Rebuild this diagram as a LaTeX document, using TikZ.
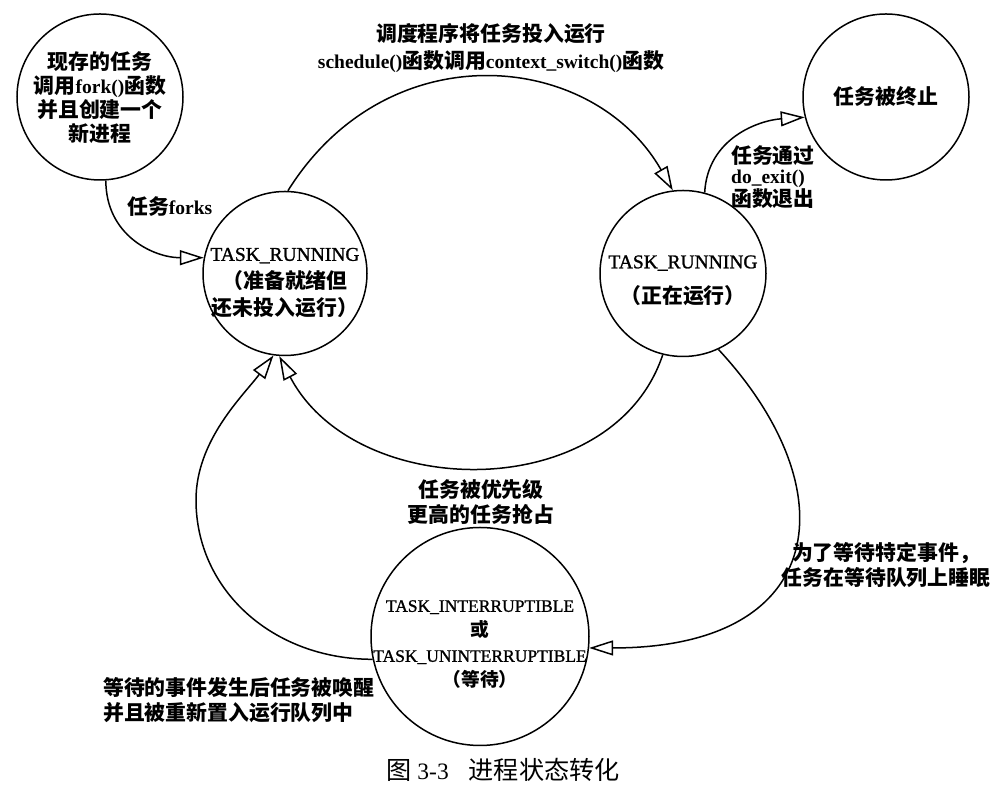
\documentclass[tikz,border=0pt]{standalone}
\usepackage{fontspec}
\setmainfont{Liberation Serif}
\newfontfamily\cjk{Noto Sans CJK SC}[Scale=1.07]
\newfontfamily\tsk{Liberation Serif}[FakeBold=1.2]
\usetikzlibrary{arrows.meta}
\newcommand\zh[1]{{\cjk #1}}
\newcommand\fs[2]{\fontsize{#1}{#2}\selectfont}
\begin{document}
\begin{tikzpicture}[x=1pt,y=1pt,
  ring/.style={circle,draw,line width=1.5pt,inner sep=0pt,minimum size=#1},
  txt/.style={align=center,inner sep=0pt,font=\fs{19.5}{#1}},
  btxt/.style={align=center,inner sep=0pt,font=\fs{19.5}{#1}\bfseries},
  arr/.style={line width=1.5pt,-{Triangle[open,length=24pt,width=15pt,line width=1.5pt]}}]
\useasboundingbox (0,0) rectangle (1005,802);
\fill[white] (0,0) rectangle (1005,802);

% states
\node[ring=166pt] (c1) at (100,705) {};
\node[ring=164pt] (c2) at (285,528.5) {};
\node[ring=166pt] (c3) at (683,528.5) {};
\node[ring=166pt] (c4) at (886,705) {};
\node[ring=218pt] (c5) at (480,165.5) {};

\node[btxt=24pt] (t1) at (100,704) {\zh{现存的任务}\\\zh{调用}fork()\zh{函数}\\\zh{并且创建一个}\\\zh{新进程}};
\node[txt=27.5pt] (t2) at (285,519) {{\tsk TASK\_RUNNING}\\{\bfseries\zh{（准备就绪但}}\\{\bfseries\zh{还未投入运行）}}};
\node[txt=35pt] (t3) at (683,521.5) {{\tsk TASK\_RUNNING}\\{\bfseries\zh{（正在运行）}}};
\node[btxt=24pt] (t4) at (886,705) {\zh{任务被终止}};
\node[align=center,inner sep=0pt,font=\fs{17.5}{25}] (t5) at (480,157.5)
  {{\tsk TASK\_INTERRUPTIBLE}\\{\bfseries\zh{或}}\\{\tsk TASK\_UNINTERRUPTIBLE}\\{\bfseries\zh{（等待）}}};

% labels
\node[btxt=27pt] (l1) at (491,753.5) {\zh{调度程序将任务投入运行}\\schedule()\zh{函数调用}context\_switch()\zh{函数}};
\node[btxt=24pt,anchor=west] (l2) at (127,595) {\zh{任务}forks};
\node[btxt=20pt,anchor=west,align=left] (l3) at (731,625) {\zh{任务通过}\\do\_exit()\\\zh{函数退出}};
\node[btxt=25pt] (l4) at (481,300) {\zh{任务被优先级}\\\zh{更高的任务抢占}};
\node[btxt=25pt] (l5) at (886,237) {\zh{为了等待特定事件，}\\\zh{任务在等待队列上睡眠}};
\node[btxt=25pt,anchor=west,align=left] (l6) at (103,102) {\zh{等待的事件发生后任务被唤醒}\\\zh{并且被重新置入运行队列中}};
\node[inner sep=0pt,font=\fs{23.5}{28}] (cap) at (503,32) {\zh{图}\hspace{6pt}3-3\hspace{20pt}\zh{进程状态转化}};

% transitions
\draw[arr] (c1.-86) .. controls +(0,-55) and +(-50,0) .. (c2.169);
\draw[arr] (c2.88) .. controls +(100,160) and +(-80,140) .. (c3.97);
\draw[arr] (c3.75) .. controls +(3,55) and +(-45,-3) .. (c4.194);
\draw[arr] (c3.256) .. controls +(-50,-150) and +(77,-147) .. (c2.266);
\draw[arr] (c3.295) .. controls +(130,-140) and +(240,0) .. (c5.-6);
\coordinate (wk) at (196,302);
\draw[arr] (c5.192) .. controls +(-100,0) and +(0,-90) .. (wk)
  .. controls +(0,60) and +(-30,-40) .. (c2.262);
\end{tikzpicture}
\end{document}
